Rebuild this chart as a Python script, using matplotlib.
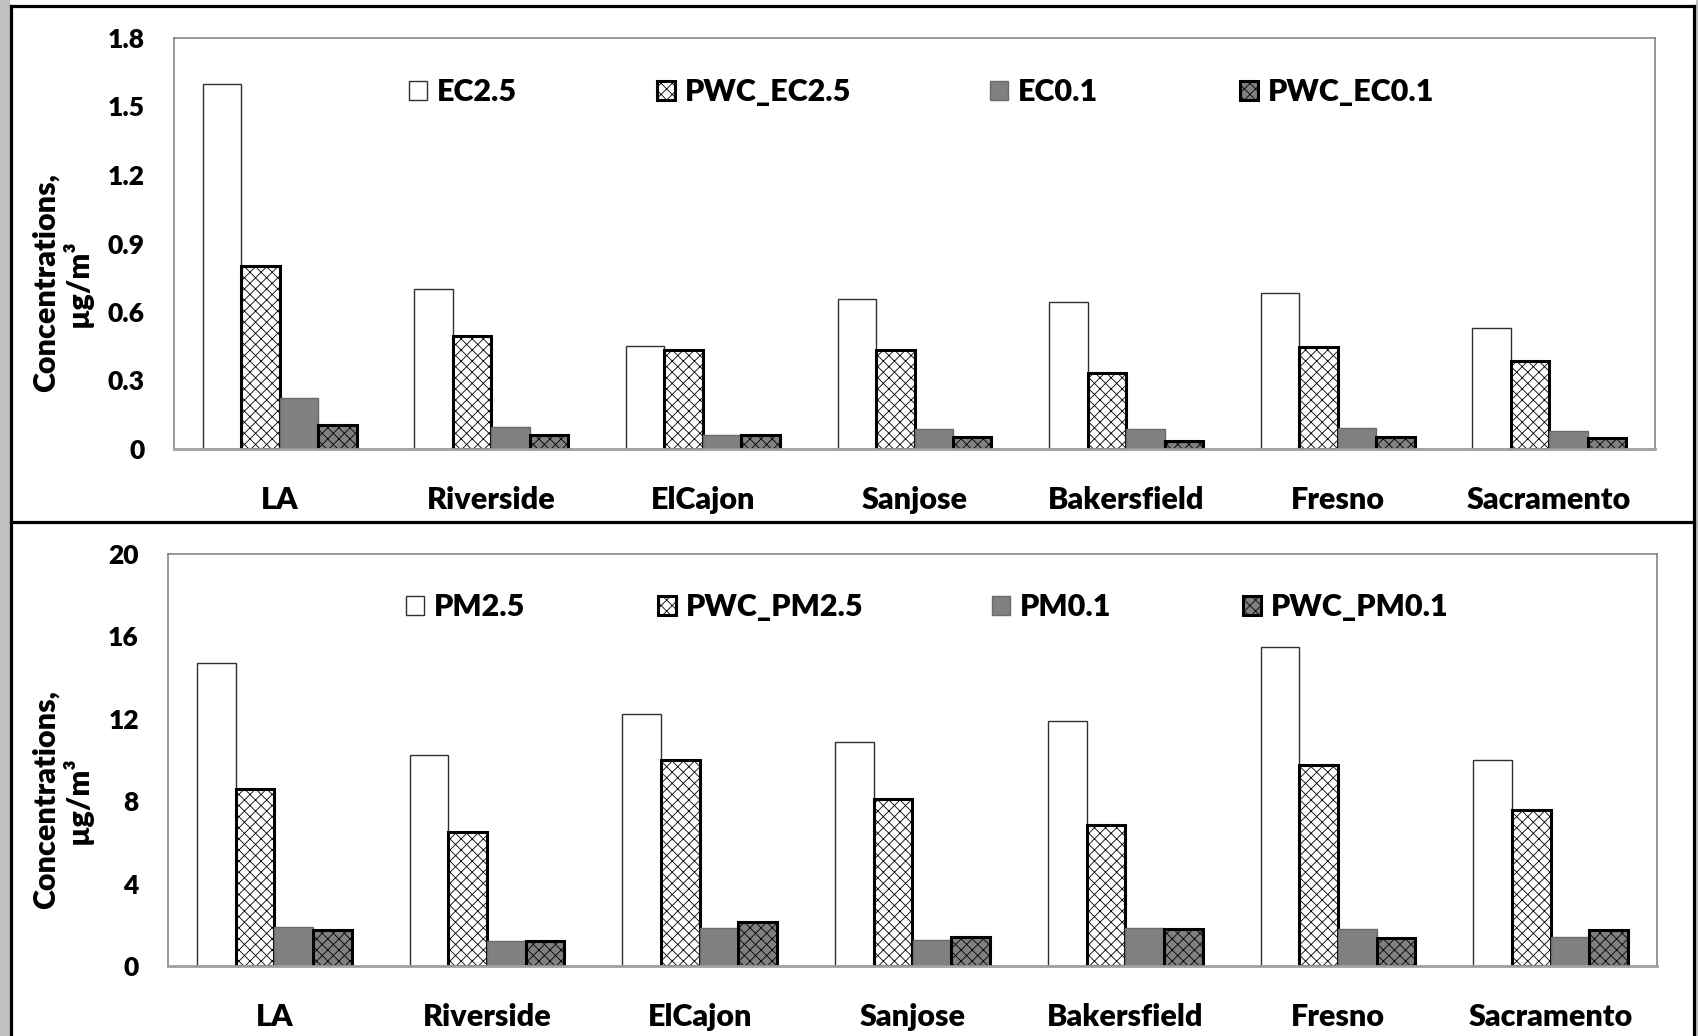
import matplotlib
matplotlib.use('Agg')
import matplotlib.pyplot as plt
import numpy as np
from matplotlib.lines import Line2D
from matplotlib.patches import Rectangle

cities = ['LA', 'Riverside', 'ElCajon', 'Sanjose', 'Bakersfield', 'Fresno', 'Sacramento']

ec_labels = ['EC2.5', 'PWC_EC2.5', 'EC0.1', 'PWC_EC0.1']
ec25 = [1.60, 0.70, 0.45, 0.655, 0.645, 0.685, 0.53]
pwc_ec25 = [0.80, 0.495, 0.435, 0.435, 0.335, 0.445, 0.385]
ec01 = [0.225, 0.095, 0.062, 0.087, 0.087, 0.094, 0.077]
pwc_ec01 = [0.105, 0.063, 0.062, 0.054, 0.035, 0.051, 0.048]

pm_labels = ['PM2.5', 'PWC_PM2.5', 'PM0.1', 'PWC_PM0.1']
pm25 = [14.7, 10.25, 12.25, 10.85, 11.9, 15.5, 10.0]
pwc_pm25 = [8.6, 6.5, 10.0, 8.1, 6.85, 9.75, 7.55]
pm01 = [1.9, 1.2, 1.85, 1.25, 1.85, 1.82, 1.4]
pwc_pm01 = [1.73, 1.22, 2.15, 1.42, 1.78, 1.36, 1.73]

ec_ticks = [0, 0.3, 0.6, 0.9, 1.2, 1.5, 1.8]
ec_ticklabels = ['0', '0.3', '0.6', '0.9', '1.2', '1.5', '1.8']
pm_ticks = [0, 4, 8, 12, 16, 20]
pm_ticklabels = ['0', '4', '8', '12', '16', '20']

ylabel = 'Concentrations,\n\u00b5g/m\u00b3'

FONT = ['Lato', 'DejaVu Sans']
WEIGHT = 'heavy'
plt.rcParams['font.family'] = FONT
plt.rcParams['font.weight'] = WEIGHT
plt.rcParams['hatch.linewidth'] = 0.6

W, H = 1698, 1036
fig = plt.figure(figsize=(W / 100, H / 100), dpi=100)
fig.patch.set_facecolor('white')

styles = [
    dict(facecolor='white', edgecolor='#303030', linewidth=1.0),
    dict(facecolor='white', edgecolor='black', linewidth=2.2, hatch='xxx'),
    dict(facecolor='#808080', edgecolor='#6a6a6a', linewidth=1.0),
    dict(facecolor='#808080', edgecolor='black', linewidth=2.2, hatch='xxx'),
]


def fx(px):
    return px / W


def fy(py):
    return 1 - py / H


def panel(rect, series, labels, ticks, ticklabels, ymax, leg_x, leg_y, ylab_y):
    ax = fig.add_axes(rect)
    x = np.arange(len(cities))
    w = 0.7273 / 4
    bars = []
    for i, (vals, st) in enumerate(zip(series, styles)):
        b = ax.bar(x + (i - 1.5) * w, vals, w, label=labels[i], zorder=2, **st)
        bars.append(b)
    ax.set_xlim(-0.5, len(cities) - 0.5)
    ax.set_ylim(0, ymax)
    ax.set_yticks(ticks)
    ax.set_yticklabels(ticklabels)
    ax.set_xticks(x)
    ax.set_xticklabels(cities)
    ax.tick_params(axis='y', length=0, pad=21, labelsize=19)
    ax.tick_params(axis='x', length=0, pad=26.5, labelsize=22)
    for lab in ax.get_xticklabels() + ax.get_yticklabels():
        lab.set_fontweight(WEIGHT)
    for s in ['left', 'top', 'right']:
        ax.spines[s].set_color('#7a7a7a')
        ax.spines[s].set_linewidth(1.1)
    ax.spines['bottom'].set_color('#a0a0a0')
    ax.spines['bottom'].set_linewidth(2.0)
    for i in range(4):
        fig.legend([bars[i]], [labels[i]], loc='center left',
                   bbox_to_anchor=(fx(leg_x[i]), fy(leg_y)),
                   frameon=False, borderpad=0, borderaxespad=0,
                   handlelength=0.6, handleheight=0.6, handletextpad=0.3,
                   prop=dict(family=FONT, weight=WEIGHT, size=22))
    fig.text(fx(62), fy(ylab_y), ylabel, rotation=90, ha='center', va='center',
             multialignment='center', fontsize=22, fontweight=WEIGHT,
             linespacing=1.1, family=FONT)
    return ax


panel([fx(174), fy(449), fx(1655) - fx(174), fy(38) - fy(449)],
      [ec25, pwc_ec25, ec01, pwc_ec01], ec_labels, ec_ticks, ec_ticklabels, 1.8,
      [409, 657, 990, 1240], 92, 283)

panel([fx(168), fy(966), fx(1657) - fx(168), fy(554) - fy(966)],
      [pm25, pwc_pm25, pm01, pwc_pm01], pm_labels, pm_ticks, pm_ticklabels, 20,
      [406, 658, 992, 1243], 607, 800)

# frame decorations
fig.add_artist(Rectangle((0, 0), fx(10), 1, transform=fig.transFigure,
                         facecolor='#c0c0c0', edgecolor='none', zorder=0))
fig.add_artist(Rectangle((fx(1696), 0), fx(2), 1, transform=fig.transFigure,
                         facecolor='#c0c0c0', edgecolor='none', zorder=0))
lw = 2.3
fig.add_artist(Line2D([fx(11), fx(11)], [0, fy(5.5)], color='black', lw=lw, transform=fig.transFigure))
fig.add_artist(Line2D([fx(1694), fx(1694)], [0, fy(5.5)], color='black', lw=lw, transform=fig.transFigure))
fig.add_artist(Line2D([fx(11), fx(1694)], [fy(5.5), fy(5.5)], color='black', lw=lw, transform=fig.transFigure))
fig.add_artist(Line2D([fx(11), fx(1694)], [fy(522), fy(522)], color='black', lw=lw, transform=fig.transFigure))

fig.savefig('out.png', dpi=100, facecolor='white')
